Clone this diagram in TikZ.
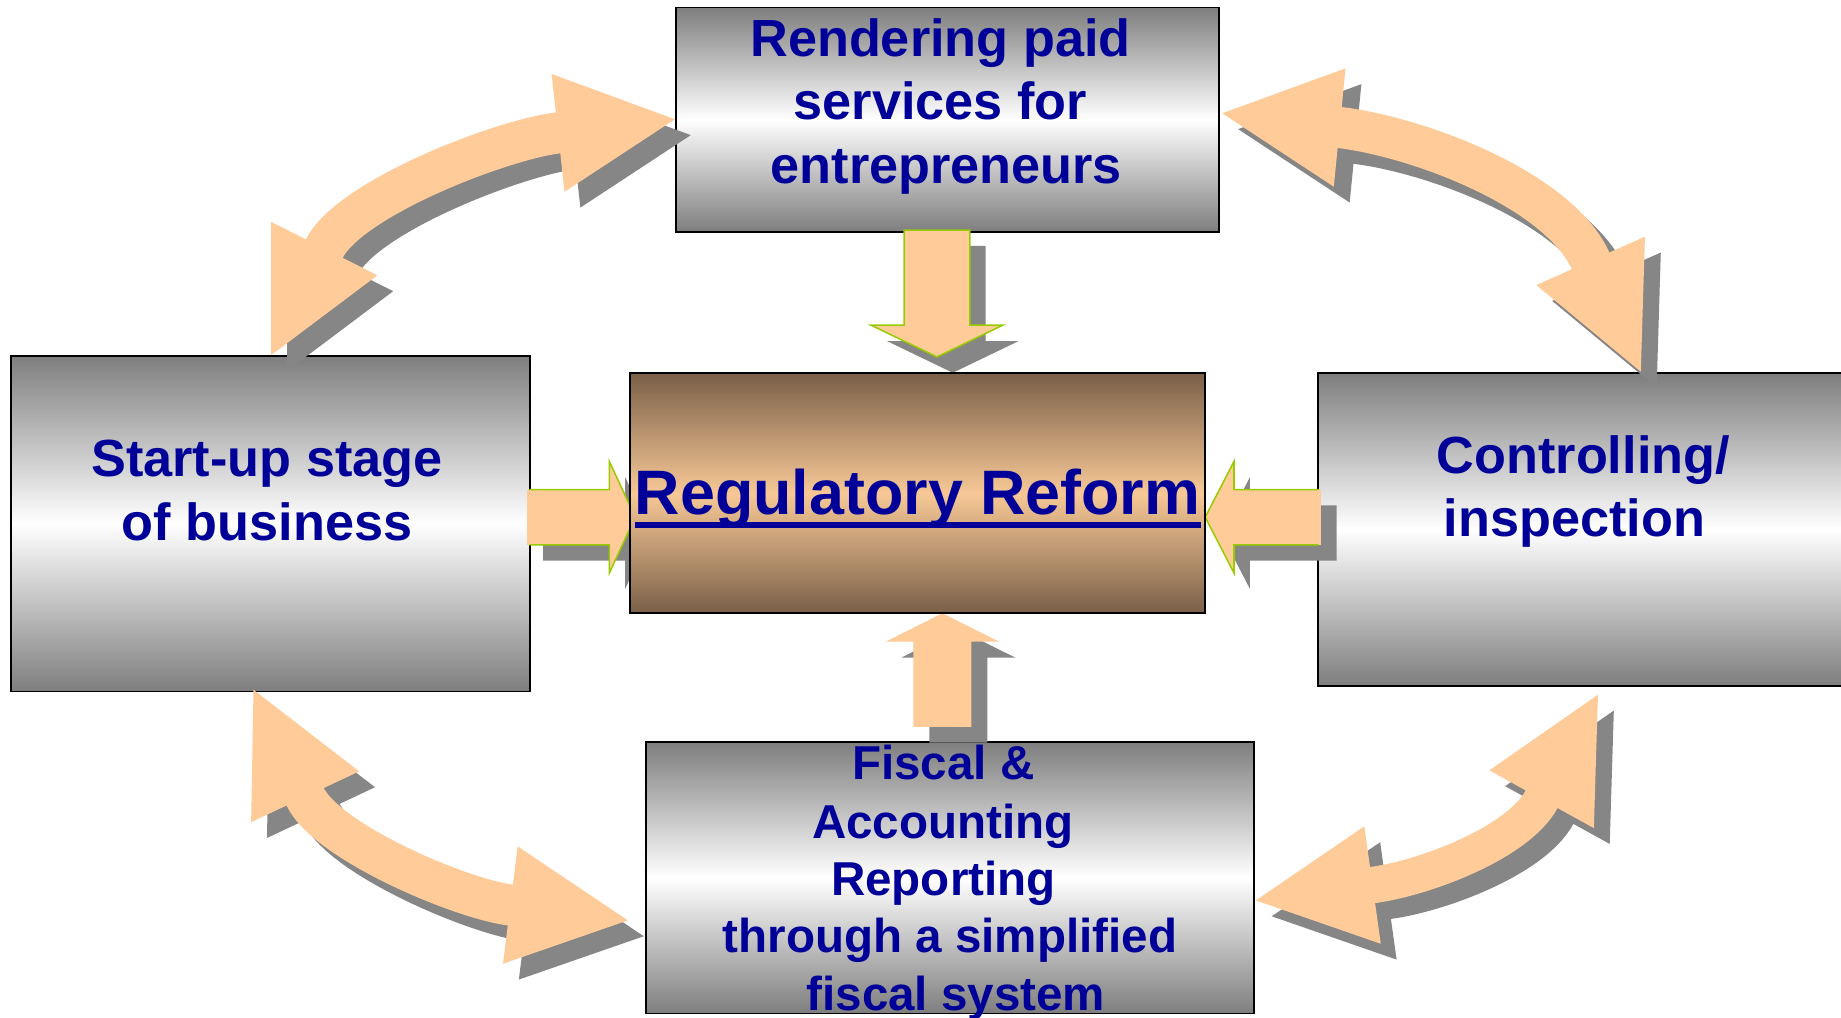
\documentclass[tikz,border=0pt]{standalone}
\usepackage{fontspec}
\setmainfont{Liberation Sans}
\usetikzlibrary{calc}
\definecolor{txtblue}{RGB}{0,0,153}
\definecolor{boxgray}{RGB}{126,126,126}
\definecolor{brownedge}{RGB}{122,96,72}
\definecolor{peachmid}{RGB}{247,200,150}
\definecolor{arrowfill}{RGB}{255,204,153}
\definecolor{shadowgray}{RGB}{134,134,134}
\definecolor{limeline}{RGB}{153,204,0}

% curved double arrows (shapes drawn in the colour given)
\newcommand\bandTL[1]{%
  \fill[#1] (231,189) -- (321.4,234.5) -- (231,302.4) -- cycle;
  \fill[#1] (469.8,63) -- (480.8,163.3) -- (574.8,101.6) -- cycle;
  \draw[#1, line width=35pt, line join=round] (274.4,215.4) -- (276.2,211.8)
     .. controls (297.7,168.8) and (427.6,118.8) .. (475.3,113.2) -- (479.3,112.7);}
\newcommand\bandTR[1]{%
  \fill[#1] (1146,58.2) -- (1136,159) -- (1041,96.5) -- cycle;
  \fill[#1] (1401,201.6) -- (1308.5,242.8) -- (1397.5,316.6) -- cycle;
  \draw[#1, line width=35pt, line join=round] (1137,108.1) -- (1141,108.6)
     .. controls (1207.5,116.6) and (1327,161.2) .. (1354.75,222.2) -- (1356.4,225.8);}
\newcommand\bandBL[1]{%
  \fill[#1] (305.9,657) -- (213.9,700.2) -- (215.9,587.5) -- cycle;
  \fill[#1] (440.9,720.9) -- (428.4,820.8) -- (534.8,783.9) -- cycle;
  \draw[#1, line width=35pt, line join=round] (258.2,675) -- (259.9,678.6)
     .. controls (278.6,717.3) and (392,765.3) .. (434.65,770.85) -- (438.6,771.4);}
\newcommand\bandBR[1]{%
  \fill[#1] (1268.5,656.1) -- (1357.5,705.3) -- (1361,591.7) -- cycle;
  \fill[#1] (1162,703.8) -- (1176,803.8) -- (1069.6,766.9) -- cycle;
  \draw[#1, line width=31pt, line join=round] (1165,754.3) -- (1169,753.8)
     .. controls (1211.6,748.2) and (1292.6,718.5) .. (1313,680.7) -- (1314.9,677.2);}
% straight block arrows
\newcommand\shpDown{(770,196) -- (826,196) -- (826,277) -- (854,277) -- (798,304) -- (742,277) -- (770,277) -- cycle}
\newcommand\shpLeft{(449,417) -- (519,417) -- (519,393) -- (541,440.5) -- (519,488) -- (519,464) -- (449,464) -- cycle}
\newcommand\shpRight{(1125,417) -- (1051,417) -- (1051,393) -- (1026.5,440.5) -- (1051,488) -- (1051,464) -- (1125,464) -- cycle}
\newcommand\shpUp{(778,619) -- (827.4,619) -- (827.4,546.5) -- (851,546.5) -- (802.7,522.4) -- (754.4,546.5) -- (778,546.5) -- cycle}

\begin{document}
\begin{tikzpicture}[x=1pt,y=-1pt,
  graybox/.style={draw=black, line width=1.5pt, rectangle, inner sep=0pt,
    top color=boxgray, bottom color=boxgray, middle color=white},
  brownbox/.style={draw=black, line width=1.5pt, rectangle, inner sep=0pt,
    top color=brownedge, bottom color=brownedge, middle color=peachmid},
  lbl/.style={anchor=base, inner sep=0pt, text=txtblue,
    font=\fontsize{44.5}{53}\selectfont\bfseries},
  lblsmall/.style={lbl, font=\fontsize{40.5}{49}\selectfont\bfseries},
  lblbig/.style={lbl, font=\fontsize{53.5}{64}\selectfont\bfseries},
  limeedge/.style={draw=limeline, line width=1.3pt, line join=miter},
  shadowshift/.style={shift={(13.5,13.5)}}]

\clip (0,0) rectangle (1568,866.2);
\fill[white] (0,0) rectangle (1568,866.2);

% outer boxes
\node[graybox, minimum width=462.5pt, minimum height=191pt] (topbox) at (807.2,101.8) {};
\node[graybox, minimum width=442pt, minimum height=286pt] (leftbox) at (230.1,445.9) {};
\node[graybox, minimum width=460pt, minimum height=266pt] (rightbox) at (1352.7,451) {};
\node[graybox, minimum width=518pt, minimum height=231.5pt] (botbox) at (809.3,747.4) {};

% shadows
\begin{scope}[shadowshift]
  \bandTL{shadowgray}
  \bandTR{shadowgray}
  \bandBL{shadowgray}
  \bandBR{shadowgray}
  \fill[shadowgray] \shpDown;
  \fill[shadowgray] \shpLeft;
  \fill[shadowgray] \shpRight;
  \fill[shadowgray] \shpUp;
\end{scope}

% arrows
\bandTL{arrowfill}
\bandTR{arrowfill}
\bandBL{arrowfill}
\bandBR{arrowfill}
\fill[arrowfill] \shpDown;
\draw[limeedge] \shpDown;
\fill[arrowfill] \shpLeft;
\draw[limeedge] (451,417) -- (519,417) -- (519,393) -- (541,440.5) -- (519,488) -- (519,464) -- (451,464);
\fill[arrowfill] \shpRight;
\draw[limeedge] (1123,417) -- (1051,417) -- (1051,393) -- (1026.5,440.5) -- (1051,488) -- (1051,464) -- (1123,464);
\fill[arrowfill] \shpUp;

% central box
\node[brownbox, minimum width=490pt, minimum height=204.4pt] (centbox) at (781.5,420.2) {};

% labels
\node[lbl] (t1) at (801,48.3) {Rendering paid};
\node[lbl] (t2) at (801,102.2) {services for};
\node[lbl] (t3) at (806,156.2) {entrepreneurs};
\node[lbl] (l1) at (227.4,406) {Start-up stage};
\node[lbl] (l2) at (227.5,460) {of business};
\node[lbl] (r1) at (1348.5,403.1) {Controlling/};
\node[lbl] (r2) at (1341,456.8) {inspection};
\node[lblsmall] (b1) at (803.5,664.3) {Fiscal \&};
\node[lblsmall] (b2) at (803,714) {Accounting};
\node[lblsmall] (b3) at (803.5,763.1) {Reporting};
\node[lblsmall] (b4) at (809,811.4) {through a simplified};
\node[lblsmall] (b5) at (814.2,860.8) {fiscal system};
\node[lblbig] (regtext) at (781.5,437.8) {Regulatory Reform};
\draw[txtblue, line width=5pt] ($(regtext.base west)+(0,9)$) -- ($(regtext.base east)+(0,9)$);

\end{tikzpicture}
\end{document}
